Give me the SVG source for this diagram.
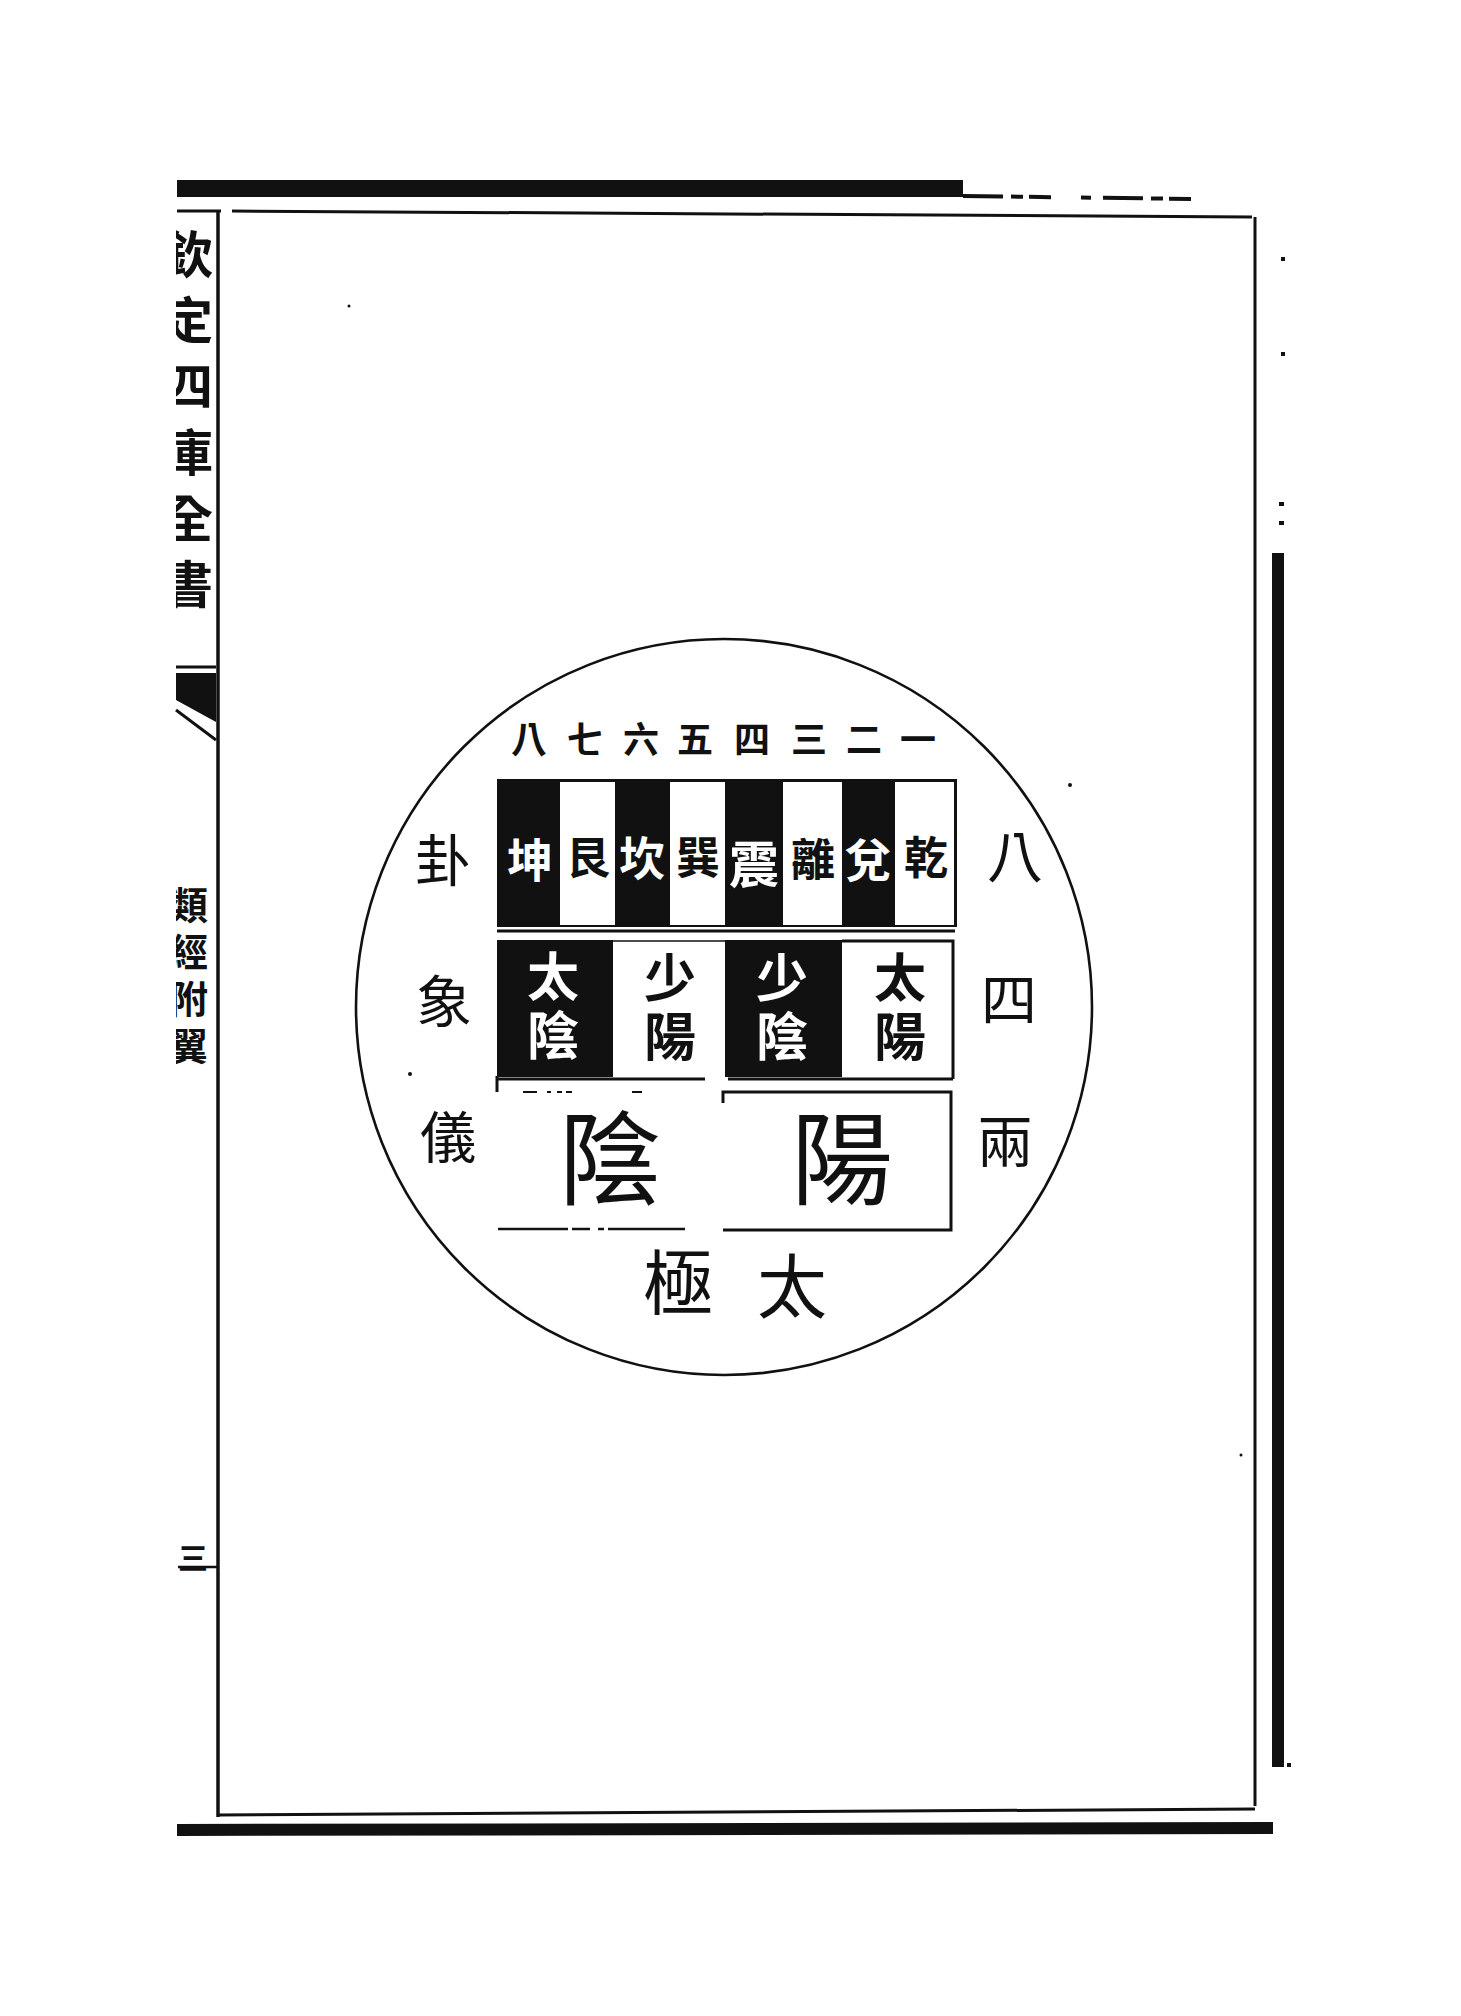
<svg xmlns="http://www.w3.org/2000/svg" width="1461" height="2016" viewBox="0 0 1461 2016">
<style>
.t{font-family:"Noto Sans CJK TC","Noto Sans CJK JP","Noto Sans CJK SC",sans-serif;text-anchor:middle;dominant-baseline:central;fill:#111;}
.v{writing-mode:vertical-rl;}
.b{font-weight:bold;}
.w{fill:#fff;}
.ln{stroke:#111;fill:none;}
.blk{fill:#111;}
.wc{fill:#fff;}
</style>
<defs>
<clipPath id="margin"><rect x="176" y="200" width="40" height="1620"/></clipPath>
</defs>
<rect width="1461" height="2016" fill="#fff"/>

<g id="page-frame">
  <rect x="177" y="180" width="786" height="17" class="blk"/>
  <line x1="963" y1="196" x2="1195" y2="199" class="ln" stroke-width="4" stroke-dasharray="40 8 12 6 22 30 10 12"/>
  <line x1="177" y1="211" x2="221" y2="211" class="ln" stroke-width="3"/>
  <line x1="232" y1="211" x2="1252" y2="217" class="ln" stroke-width="3"/>
  <line x1="218" y1="210" x2="218" y2="1817" class="ln" stroke-width="3.5"/>
  <line x1="1255" y1="217" x2="1255" y2="1806" class="ln" stroke-width="3"/>
  <line x1="218" y1="1815" x2="1255" y2="1809" class="ln" stroke-width="3"/>
  <path d="M177 1824 L1273 1822 L1273 1834 L177 1836 Z" class="blk"/>
  <rect x="1272" y="553" width="12" height="1214" class="blk"/>
  <line x1="176" y1="667" x2="216" y2="667" class="ln" stroke-width="3"/>
  <polygon points="176,673 216,673 216,722 176,700" class="blk"/>
  <line x1="176" y1="710" x2="216" y2="740" class="ln" stroke-width="3"/>
  <line x1="178" y1="1567" x2="218" y2="1567" class="ln" stroke-width="2.5"/>
  <rect x="1281" y="257" width="4" height="4" class="blk"/>
  <rect x="1281" y="352" width="4" height="4" class="blk"/>
  <rect x="1279" y="502" width="5" height="4" class="blk"/>
  <rect x="1279" y="521" width="5" height="4" class="blk"/>
  <rect x="1287" y="1763" width="4" height="4" class="blk"/>
  <circle cx="349" cy="306" r="1.5" class="blk"/>
  <circle cx="1070" cy="785" r="2" class="blk"/>
  <circle cx="410" cy="1074" r="2" class="blk"/>
  <circle cx="1241" cy="1455" r="1.5" class="blk"/>
</g>

<g id="margin-text" clip-path="url(#margin)">
  <text class="t v b" x="188" y="427" font-size="50" letter-spacing="16">欽定四庫全書</text>
  <text class="t v b" x="189" y="980" font-size="38" letter-spacing="9">類經附翼</text>
  <text class="t b" x="193" y="1556" font-size="30">三</text>
</g>

<g id="circle">
  <circle cx="724" cy="1007" r="368" class="ln" stroke-width="2.6"/>
</g>

<g id="numbers">
  <text class="t b" x="529" y="737" font-size="36">八</text>
  <text class="t b" x="585" y="737" font-size="36">七</text>
  <text class="t b" x="641" y="737" font-size="36">六</text>
  <text class="t b" x="695" y="737" font-size="36">五</text>
  <text class="t b" x="752" y="737" font-size="36">四</text>
  <text class="t b" x="809" y="737" font-size="36">三</text>
  <text class="t b" x="864" y="737" font-size="36">二</text>
  <text class="t b" x="918" y="737" font-size="36">一</text>
</g>

<g id="bagua-row">
  <rect x="497" y="779" width="460" height="148" class="blk"/>
  <rect x="560" y="782" width="55" height="143" class="wc"/>
  <rect x="670" y="782" width="55" height="143" class="wc"/>
  <rect x="783" y="782" width="59" height="143" class="wc"/>
  <rect x="895" y="782" width="59" height="143" class="wc"/>
  <text class="t b w" x="530" y="857" font-size="46">坤</text>
  <text class="t b" x="588" y="855" font-size="44">艮</text>
  <text class="t b w" x="642" y="855" font-size="46">坎</text>
  <text class="t b" x="698" y="855" font-size="44">巽</text>
  <text class="t b w" x="754" y="861" font-size="50">震</text>
  <text class="t b" x="813" y="857" font-size="44">離</text>
  <text class="t b w" x="868" y="857" font-size="46">兌</text>
  <text class="t b" x="926" y="855" font-size="44">乾</text>
</g>

<g id="connectors">
  <line x1="497" y1="931" x2="955" y2="931" class="ln" stroke-width="3"/>
  <line x1="497" y1="1079" x2="705" y2="1079" class="ln" stroke-width="3"/>
  <line x1="728" y1="1079" x2="953" y2="1079" class="ln" stroke-width="3"/>
  <line x1="497" y1="1076" x2="497" y2="1092" class="ln" stroke-width="3"/>
  <line x1="523" y1="1092" x2="650" y2="1092" class="ln" stroke-width="2" stroke-dasharray="14 10 4 6 5 4 6 60 10"/>
  <polyline points="723,1103 723,1092 951,1092 951,1230 723,1230" class="ln" stroke-width="3"/>
  <line x1="498" y1="1229" x2="685" y2="1229" class="ln" stroke-width="2.5" stroke-dasharray="70 4 18 8 6 4 200"/>
</g>

<g id="sixiang-row">
  <rect x="497" y="940" width="116" height="137" class="blk"/>
  <rect x="725" y="940" width="117" height="137" class="blk"/>
  <line x1="613" y1="941" x2="725" y2="941" class="ln" stroke-width="1.5"/>
  <polyline points="842,941 953,941 953,1079" class="ln" stroke-width="3"/>
  <text class="t v b w" x="553" y="1009" font-size="52" letter-spacing="7">太陰</text>
  <text class="t v b" x="670" y="1010" font-size="52" letter-spacing="7">少陽</text>
  <text class="t v b w" x="782" y="1010" font-size="52" letter-spacing="7">少陰</text>
  <text class="t v b" x="900" y="1010" font-size="52" letter-spacing="7">太陽</text>
</g>

<g id="liangyi-row">
  <text class="t" x="610" y="1152" font-size="102">陰</text>
  <text class="t" x="842" y="1152" font-size="102">陽</text>
</g>

<g id="taiji">
  <text class="t" x="678" y="1278" font-size="70">極</text>
  <text class="t" x="792" y="1282" font-size="70">太</text>
</g>

<g id="left-labels">
  <text class="t" x="443" y="856" font-size="56">卦</text>
  <text class="t" x="444" y="997" font-size="56">象</text>
  <text class="t" x="448" y="1133" font-size="56">儀</text>
</g>

<g id="right-labels">
  <text class="t" x="1015" y="852" font-size="56">八</text>
  <text class="t" x="1009" y="995" font-size="56">四</text>
  <text class="t" x="1005" y="1137" font-size="56">兩</text>
</g>
</svg>
